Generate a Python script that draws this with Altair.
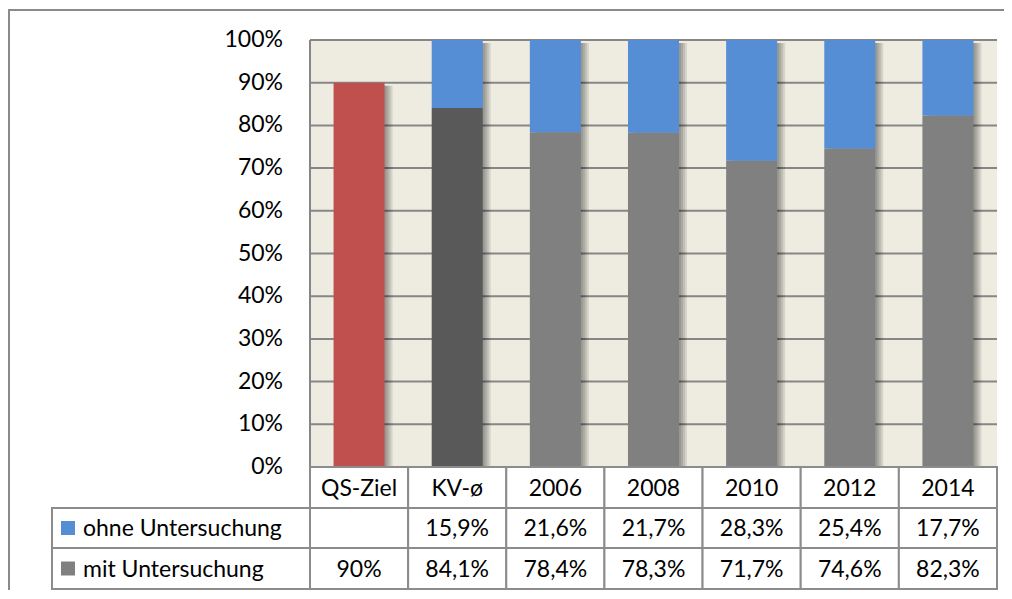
import altair as alt
import pandas as pd

# ---------------- data ----------------
categories = ["QS-Ziel", "KV-ø", "2006", "2008", "2010", "2012", "2014"]
mit_values = [90.0, 84.1, 78.4, 78.3, 71.7, 74.6, 82.3]
ohne_values = [None, 15.9, 21.6, 21.7, 28.3, 25.4, 17.7]
y_ticks = [0, 10, 20, 30, 40, 50, 60, 70, 80, 90, 100]
row_names = ["ohne Untersuchung", "mit Untersuchung"]


def de_pct(v):
    return ("%g" % v).replace(".", ",") + "%"


# ---------------- layout (pixels) ----------------
W, H = 994, 580
PAD = {"left": 2, "top": 2, "right": 0, "bottom": 0}
PLOT_L, PLOT_R = 300, 987
COL_W = (PLOT_R - PLOT_L) / 7.0
Y0_PX, PX_PER_PCT = 457, 4.27
X_DOMAIN = [(0 - PLOT_L) / COL_W, (W - PLOT_L) / COL_W]
Y_DOMAIN = [-(H - Y0_PX) / PX_PER_PCT, Y0_PX / PX_PER_PCT]
ROW_EDGES = [0, -41 / PX_PER_PCT, -81 / PX_PER_PCT, -122 / PX_PER_PCT]
LABEL_COL_L = (42 - PLOT_L) / COL_W
SQUARE_X = (58 - PLOT_L) / COL_W
LABEL_TEXT_X = (73 - PLOT_L) / COL_W

FONT = "Lato"
FS = 23
GRID = "#868686"
TABLE_LINE = "#8c8c8c"
BLUE = "#558ED5"
GRAY = "#808080"

xs = alt.Scale(domain=X_DOMAIN, nice=False, zero=False)
ys = alt.Scale(domain=Y_DOMAIN, nice=False, zero=False)

df = pd.DataFrame({
    "cat": categories,
    "idx": list(range(len(categories))),
    "mit": mit_values,
    "ohne": ohne_values,
})

rows = []
for i, c in enumerate(categories):
    rows.append({"row": 0, "idx": i, "label": c})
    if ohne_values[i] is not None:
        rows.append({"row": 1, "idx": i, "label": de_pct(ohne_values[i])})
    rows.append({"row": 2, "idx": i, "label": de_pct(mit_values[i])})
tdf = pd.DataFrame(rows)
tdf["xc"] = tdf["idx"] + 0.5
tdf["yc"] = [(ROW_EDGES[r] + ROW_EDGES[r + 1]) / 2 for r in tdf["row"]]

cells = []
for r in range(3):
    for c in range(-1 if r > 0 else 0, 7):
        cells.append({
            "x0": LABEL_COL_L if c == -1 else c,
            "x1": 0 if c == -1 else c + 1,
            "y0": ROW_EDGES[r],
            "y1": ROW_EDGES[r + 1],
        })
cdf = pd.DataFrame(cells)

ldf = pd.DataFrame({"name": row_names, "row": [1, 2]})
ldf["yc"] = [(ROW_EDGES[r] + ROW_EDGES[r + 1]) / 2 for r in ldf["row"]]
ldf["xs"] = SQUARE_X
ldf["xt"] = LABEL_TEXT_X

tick_df = pd.DataFrame({"v": y_ticks})
tick_df["label"] = [f"{v}%" for v in y_ticks]
tick_df["x0"] = 0
tick_df["x1"] = 7

one = pd.DataFrame({"a": [0]})

X = lambda f: alt.X(f, type="quantitative", scale=xs, axis=None)
Y = lambda f: alt.Y(f, type="quantitative", scale=ys, axis=None)

base = alt.Chart(df)

background = alt.Chart(one).mark_rect(fill="#EEECE1").transform_calculate(
    x0="0", x1="7", y0="0", y1="100"
).encode(x=X("x0"), x2="x1:Q", y=Y("y0"), y2="y1:Q")

grid = alt.Chart(tick_df).transform_filter("datum.v > 0").mark_rule(
    color=GRID, strokeWidth=2
).encode(x=X("x0"), x2="x1:Q", y=Y("v"))

left_border = alt.Chart(one).mark_rule(color=GRID, strokeWidth=2).transform_calculate(
    x0="0", y0="0", y1="100"
).encode(x=X("x0"), y=Y("y0"), y2="y1:Q")

shadow_base = base.transform_calculate(
    total="datum.ohne == null ? datum.mit : datum.mit + datum.ohne",
    x0="datum.idx + 0.24",
    x1="datum.idx + 0.76",
    zero="0",
)
shadows = [
    shadow_base.mark_bar(color="black", opacity=0.1, xOffset=off, yOffset=3, x2Offset=off).encode(
        x=X("x0"), x2="x1:Q", y=Y("total"), y2="zero:Q"
    )
    for off in (2, 4, 6, 8)
]

mit_bars = base.transform_calculate(
    x0="datum.idx + 0.24", x1="datum.idx + 0.76", zero="0"
).mark_bar().encode(
    x=X("x0"), x2="x1:Q", y=Y("mit"), y2="zero:Q",
    color=alt.Color("cat:N", scale=alt.Scale(
        domain=categories,
        range=["#C0504D", "#595959", GRAY, GRAY, GRAY, GRAY, GRAY],
    ), legend=None),
)

ohne_bars = base.transform_filter("datum.ohne != null").transform_calculate(
    x0="datum.idx + 0.24", x1="datum.idx + 0.76", top="datum.mit + datum.ohne"
).mark_bar(color=BLUE).encode(
    x=X("x0"), x2="x1:Q", y=Y("mit"), y2="top:Q"
)

table_cells = alt.Chart(cdf).mark_rect(
    fill="white", stroke=TABLE_LINE, strokeWidth=2
).encode(x=X("x0"), x2="x1:Q", y=Y("y0"), y2="y1:Q")

table_text = alt.Chart(tdf).mark_text(
    font=FONT, fontSize=FS, color="black", align="center", baseline="middle", dy=1
).encode(x=X("xc"), y=Y("yc"), text="label:N")

sq_ohne = alt.Chart(ldf).transform_filter(alt.datum.row == 1).mark_point(
    shape="square", filled=True, size=196, opacity=1, color=BLUE
).encode(x=X("xs"), y=Y("yc"))
sq_mit = alt.Chart(ldf).transform_filter(alt.datum.row == 2).mark_point(
    shape="square", filled=True, size=196, opacity=1, color=GRAY
).encode(x=X("xs"), y=Y("yc"))

row_text = alt.Chart(ldf).mark_text(
    font=FONT, fontSize=FS, color="black", align="left", baseline="middle", dy=1
).encode(x=X("xt"), y=Y("yc"), text="name:N")

ytext = alt.Chart(tick_df).mark_text(
    font=FONT, fontSize=FS, color="black", align="right", baseline="middle", dx=-27
).encode(x=X("x0"), y=Y("v"), text="label:N")

frame_left = alt.Chart(one).mark_rule(color="#8a8a8a", strokeWidth=2).encode(
    x=alt.value(-1), y=alt.value(-1), y2=alt.value(H)
)
frame_top = alt.Chart(one).mark_rule(color="#8a8a8a", strokeWidth=2).encode(
    x=alt.value(-2), x2=alt.value(W), y=alt.value(0)
)

chart = alt.layer(
    background, grid, left_border, *shadows, mit_bars, ohne_bars,
    table_cells, table_text, sq_ohne, sq_mit, row_text, ytext, frame_left, frame_top
).properties(
    width=W, height=H, padding=PAD,
    autosize=alt.AutoSizeParams(type="none"),
    background="white",
).configure_view(stroke=None)

chart.save("out.html", embed_options={"renderer": "svg", "actions": False})
